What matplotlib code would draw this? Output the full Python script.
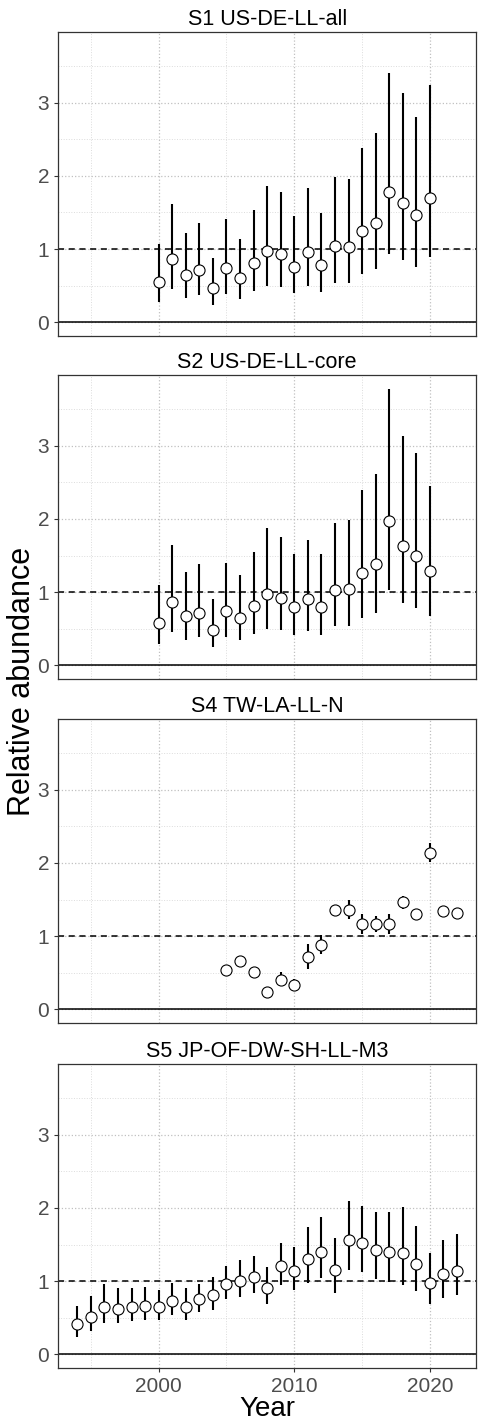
import numpy as np
import matplotlib.pyplot as plt

plt.rcParams['font.family'] = ['Liberation Sans', 'DejaVu Sans']

# ---- data ----
titles = ['S1 US-DE-LL-all', 'S2 US-DE-LL-core', 'S4 TW-LA-LL-N', 'S5 JP-OF-DW-SH-LL-M3']

s1_years = list(range(2000, 2021))
s1_mid = [0.55, 0.86, 0.64, 0.71, 0.46, 0.74, 0.61, 0.81, 0.97, 0.93, 0.76,
          0.96, 0.78, 1.04, 1.03, 1.25, 1.36, 1.78, 1.63, 1.46, 1.70]
s1_lo = [0.28, 0.45, 0.33, 0.37, 0.24, 0.38, 0.31, 0.43, 0.50, 0.48, 0.40,
         0.50, 0.41, 0.54, 0.54, 0.66, 0.72, 0.93, 0.85, 0.76, 0.89]
s1_hi = [1.07, 1.62, 1.22, 1.36, 0.88, 1.41, 1.14, 1.54, 1.86, 1.78, 1.45,
         1.84, 1.49, 1.98, 1.96, 2.38, 2.59, 3.41, 3.14, 2.80, 3.25]

s2_years = list(range(2000, 2021))
s2_mid = [0.57, 0.87, 0.67, 0.72, 0.48, 0.74, 0.65, 0.81, 0.97, 0.92, 0.80,
          0.90, 0.79, 1.03, 1.04, 1.26, 1.38, 1.97, 1.63, 1.50, 1.29]
s2_lo = [0.29, 0.46, 0.35, 0.38, 0.25, 0.38, 0.35, 0.42, 0.50, 0.48, 0.41,
         0.47, 0.41, 0.53, 0.54, 0.65, 0.72, 1.03, 0.85, 0.78, 0.67]
s2_hi = [1.10, 1.64, 1.27, 1.38, 0.90, 1.40, 1.24, 1.55, 1.88, 1.75, 1.52,
         1.71, 1.52, 1.95, 1.99, 2.40, 2.62, 3.78, 3.14, 2.90, 2.45]

s4_years = list(range(2005, 2023))
s4_mid = [0.54, 0.66, 0.51, 0.23, 0.40, 0.33, 0.71, 0.88, 1.36, 1.36, 1.16,
          1.17, 1.16, 1.46, 1.30, 2.14, 1.34, 1.31]
s4_lo = [0.50, 0.62, 0.47, 0.20, 0.33, 0.26, 0.55, 0.75, 1.28, 1.24, 1.03,
         1.06, 1.03, 1.37, 1.25, 2.02, 1.27, 1.25]
s4_hi = [0.58, 0.70, 0.55, 0.26, 0.51, 0.41, 0.89, 1.01, 1.43, 1.50, 1.30,
         1.28, 1.30, 1.55, 1.35, 2.27, 1.40, 1.37]

s5_years = list(range(1994, 2023))
s5_mid = [0.41, 0.51, 0.64, 0.62, 0.64, 0.66, 0.65, 0.73, 0.65, 0.75, 0.81,
          0.96, 1.00, 1.06, 0.90, 1.21, 1.14, 1.30, 1.40, 1.15, 1.56, 1.52,
          1.42, 1.40, 1.38, 1.24, 0.97, 1.09, 1.14]
s5_lo = [0.24, 0.32, 0.43, 0.42, 0.46, 0.47, 0.47, 0.54, 0.47, 0.57, 0.61,
         0.75, 0.78, 0.83, 0.68, 0.95, 0.88, 0.97, 1.04, 0.84, 1.15, 1.13,
         1.03, 0.99, 0.95, 0.87, 0.68, 0.77, 0.81]
s5_hi = [0.66, 0.79, 0.96, 0.91, 0.90, 0.92, 0.88, 0.98, 0.90, 0.96, 1.06,
         1.21, 1.29, 1.34, 1.19, 1.52, 1.47, 1.74, 1.87, 1.59, 2.09, 2.03,
         1.94, 1.94, 2.02, 1.76, 1.39, 1.56, 1.64]

series = [(s1_years, s1_mid, s1_lo, s1_hi),
          (s2_years, s2_mid, s2_lo, s2_hi),
          (s4_years, s4_mid, s4_lo, s4_hi),
          (s5_years, s5_mid, s5_lo, s5_hi)]

# ---- layout in pixels ----
W, H = 481, 1424
fig = plt.figure(figsize=(W / 100, H / 100), dpi=100)
left, right = 58.3, 476
tops = [32, 375, 719, 1064]
ph = 304

for i, (yrs, mid, lo, hi) in enumerate(series):
    ax = fig.add_axes([left / W, 1 - (tops[i] + ph) / H, (right - left) / W, ph / H])
    ax.set_xlim(1992.6, 2023.4)
    ax.set_ylim(-0.19, 3.97)

    ax.set_xticks([2000, 2010, 2020])
    ax.set_xticks([1995, 2005, 2015], minor=True)
    ax.set_yticks([0, 1, 2, 3])
    ax.set_yticks([0.5, 1.5, 2.5, 3.5], minor=True)
    ax.grid(which='major', color='#c0c0c0', linestyle=':', linewidth=0.9)
    ax.grid(which='minor', color='#dcdcdc', linestyle=':', linewidth=0.7)
    ax.set_axisbelow(True)

    ax.axhline(0, color='black', linewidth=1.1, zorder=2)
    ax.axhline(1, color='black', linewidth=1.1, linestyle=(0, (4, 3)), zorder=2)

    ax.vlines(yrs, lo, hi, color='black', linewidth=1.5, zorder=3)
    ax.plot(yrs, mid, 'o', markersize=8, markerfacecolor='white',
            markeredgecolor='black', markeredgewidth=0.8, zorder=4)

    for sp in ax.spines.values():
        sp.set_color('#333333')
        sp.set_linewidth(0.9)
    ax.tick_params(which='major', length=3, width=0.8, color='#333333',
                   labelcolor='#4d4d4d', labelsize=15)
    ax.tick_params(which='minor', length=0)
    if i < 3:
        ax.tick_params(axis='x', labelbottom=False, bottom=False)
    ax.set_title(titles[i], fontsize=15.5, color='black', pad=5)

ax.set_xlabel('Year', fontsize=20, labelpad=0)
fig.text(22 / W, 1 - 681 / H, 'Relative abundance', rotation=90, fontsize=22,
         ha='center', va='center')

fig.savefig('out.png', dpi=100)
